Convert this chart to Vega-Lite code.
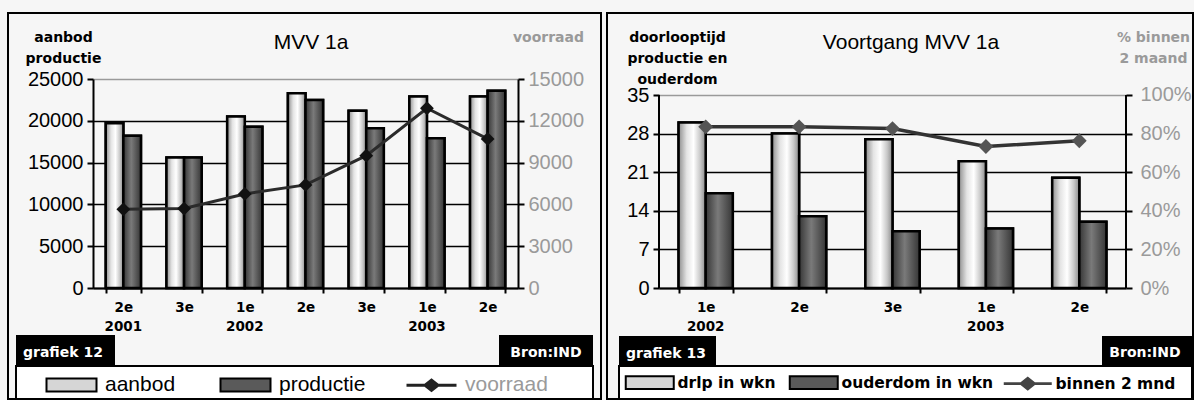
{
  "$schema": "https://vega.github.io/schema/vega-lite/v6.json",
  "background": "#f6f6f6",
  "padding": {"left": 7, "top": 12, "right": 0, "bottom": 0},
  "spacing": 4,
  "config": {
    "view": {"stroke": null},
    "font": "Liberation Sans",
    "axis": {"domainColor": "black", "domainWidth": 2, "tickColor": "black", "tickWidth": 2, "labelFont": "Liberation Sans", "labelFontSize": 20, "labelColor": "black", "gridColor": "black", "gridWidth": 1.5}
  },
  "resolve": {"scale": {"color": "independent"}, "legend": {"color": "independent"}},
  "datasets": {
    "mvv12_bars": [
      {"kwartaal": "2e 2001", "reeks": "aanbod", "waarde": 19700},
      {"kwartaal": "2e 2001", "reeks": "productie", "waarde": 18200},
      {"kwartaal": "3e 2001", "reeks": "aanbod", "waarde": 15600},
      {"kwartaal": "3e 2001", "reeks": "productie", "waarde": 15600},
      {"kwartaal": "1e 2002", "reeks": "aanbod", "waarde": 20500},
      {"kwartaal": "1e 2002", "reeks": "productie", "waarde": 19300},
      {"kwartaal": "2e 2002", "reeks": "aanbod", "waarde": 23300},
      {"kwartaal": "2e 2002", "reeks": "productie", "waarde": 22500},
      {"kwartaal": "3e 2002", "reeks": "aanbod", "waarde": 21200},
      {"kwartaal": "3e 2002", "reeks": "productie", "waarde": 19100},
      {"kwartaal": "1e 2003", "reeks": "aanbod", "waarde": 22900},
      {"kwartaal": "1e 2003", "reeks": "productie", "waarde": 17900},
      {"kwartaal": "2e 2003", "reeks": "aanbod", "waarde": 22900},
      {"kwartaal": "2e 2003", "reeks": "productie", "waarde": 23600}
    ],
    "mvv12_voorraad": [
      {"kwartaal": "2e 2001", "voorraad": 5650},
      {"kwartaal": "3e 2001", "voorraad": 5700},
      {"kwartaal": "1e 2002", "voorraad": 6750},
      {"kwartaal": "2e 2002", "voorraad": 7400},
      {"kwartaal": "3e 2002", "voorraad": 9500},
      {"kwartaal": "1e 2003", "voorraad": 12900},
      {"kwartaal": "2e 2003", "voorraad": 10700}
    ],
    "mvv13_bars": [
      {"kwartaal": "1e 2002", "reeks": "drlp in wkn", "weken": 30},
      {"kwartaal": "1e 2002", "reeks": "ouderdom in wkn", "weken": 17.2},
      {"kwartaal": "2e 2002", "reeks": "drlp in wkn", "weken": 28},
      {"kwartaal": "2e 2002", "reeks": "ouderdom in wkn", "weken": 13},
      {"kwartaal": "3e 2002", "reeks": "drlp in wkn", "weken": 27},
      {"kwartaal": "3e 2002", "reeks": "ouderdom in wkn", "weken": 10.3},
      {"kwartaal": "1e 2003", "reeks": "drlp in wkn", "weken": 23},
      {"kwartaal": "1e 2003", "reeks": "ouderdom in wkn", "weken": 10.8},
      {"kwartaal": "2e 2003", "reeks": "drlp in wkn", "weken": 20},
      {"kwartaal": "2e 2003", "reeks": "ouderdom in wkn", "weken": 12}
    ],
    "mvv13_binnen": [
      {"kwartaal": "1e 2002", "binnen": 0.835},
      {"kwartaal": "2e 2002", "binnen": 0.835},
      {"kwartaal": "3e 2002", "binnen": 0.826},
      {"kwartaal": "1e 2003", "binnen": 0.733},
      {"kwartaal": "2e 2003", "binnen": 0.763}
    ]
  },
  "hconcat": [
    {
      "width": 425,
      "height": 209,
      "resolve": {"scale": {"y": "independent"}, "axis": {"x": "independent"}},
      "layer": [
        {
          "data": {"values": [{"onderdeel": "kader"}]},
          "mark": {"type": "rect", "filled": false, "stroke": "black", "strokeWidth": 2},
          "encoding": {"x": {"value": -85}, "x2": {"value": 508}, "y": {"value": -66}, "y2": {"value": 320}}
        },
        {
          "data": {"values": [{"titel": "MVV 1a"}]},
          "mark": {"type": "text", "font": "Liberation Sans", "fontSize": 21, "color": "black", "align": "center", "baseline": "alphabetic"},
          "encoding": {"text": {"field": "titel"}, "x": {"value": 218}, "y": {"value": -30}}
        },
        {
          "data": {"values": [{"onderdeel": "legenda"}]},
          "mark": {"type": "rect", "fill": "white", "stroke": "black", "strokeWidth": 2},
          "encoding": {"x": {"value": -77}, "x2": {"value": 500}, "y": {"value": 287}, "y2": {"value": 320}}
        },
        {
          "data": {"values": [{"label": "grafiek 12"}]},
          "layer": [
            {"mark": {"type": "rect", "fill": "black"}, "encoding": {"x": {"value": -77}, "x2": {"value": 22}, "y": {"value": 256}, "y2": {"value": 287}}},
            {"mark": {"type": "text", "font": "DejaVu Sans", "fontWeight": "bold", "fontSize": 14, "color": "white", "align": "left", "baseline": "alphabetic"}, "encoding": {"text": {"field": "label"}, "x": {"value": -70}, "y": {"value": 278}}}
          ]
        },
        {
          "data": {"values": [{"label": "Bron:IND"}]},
          "layer": [
            {"mark": {"type": "rect", "fill": "black"}, "encoding": {"x": {"value": 406}, "x2": {"value": 500}, "y": {"value": 256}, "y2": {"value": 287}}},
            {"mark": {"type": "text", "font": "DejaVu Sans", "fontWeight": "bold", "fontSize": 14, "color": "white", "align": "center", "baseline": "alphabetic"}, "encoding": {"text": {"field": "label"}, "x": {"value": 453}, "y": {"value": 278}}}
          ]
        },
        {
          "data": {"name": "mvv12_bars"},
          "transform": [{"filter": "datum.reeks === 'aanbod'"}],
          "mark": {"type": "bar", "width": 17.6, "xOffset": -8.8, "stroke": "black", "strokeWidth": 2.5},
          "encoding": {
            "x": {
              "field": "kwartaal", "type": "nominal",
              "scale": {"type": "band", "domain": ["2e 2001", "3e 2001", "1e 2002", "2e 2002", "3e 2002", "1e 2003", "2e 2003"], "paddingInner": 0.42, "paddingOuter": 0.21},
              "axis": {"orient": "bottom", "title": null, "tickBand": "extent", "tickSize": 5, "labelPadding": 7, "labelAngle": 0, "labelFont": "DejaVu Sans", "labelFontWeight": "bold", "labelFontSize": 13.5, "labelBaseline": "top", "labelExpr": "isValid(datum.value) ? substring(datum.value, 0, 2) : ''", "grid": false}
            },
            "y": {
              "field": "waarde", "type": "quantitative",
              "scale": {"domain": [0, 25000], "nice": false},
              "axis": {"orient": "left", "values": [0, 5000, 10000, 15000, 20000, 25000], "format": "d", "tickSize": 6, "labelPadding": 4, "grid": true, "gridColor": {"condition": {"test": "datum.value === 25000", "value": "#9a9a9a"}, "value": "black"}, "title": ["aanbod", "productie"], "titleAngle": 0, "titleAlign": "center", "titleBaseline": "alphabetic", "titleX": -30, "titleY": -38, "titleFont": "DejaVu Sans", "titleFontWeight": "bold", "titleFontSize": 14, "titleLineHeight": 21, "titleColor": "black"}
            },
            "color": {
              "field": "reeks", "type": "nominal",
              "scale": {"domain": ["aanbod", "productie", "voorraad"], "range": ["#d6d6d6", "#5a5a5a", "#222222"]},
              "legend": {
                "orient": "none", "legendX": -32, "legendY": 295.5, "direction": "horizontal", "columns": 3, "title": null, "padding": 0,
                "symbolType": "M-1,-0.26H1V0.26H-1Z", "symbolSize": 2500, "symbolStrokeColor": "black", "symbolStrokeWidth": 2,
                "labelFont": "Liberation Sans", "labelFontSize": 21, "labelColor": "black", "labelOffset": 23, "columnPadding": 40, "labelLimit": 300,
                "encode": {
                  "symbols": {"update": {
                    "shape": {"signal": "datum.value === 'voorraad' ? 'M-1,-0.06H-0.28L0,-0.28L0.28,-0.06H1V0.06H0.28L0,0.28L-0.28,0.06H-1Z' : 'M-1,-0.26H1V0.26H-1Z'"},
                    "strokeWidth": {"signal": "datum.value === 'voorraad' ? 0 : 2"}
                  }},
                  "labels": {"update": {"fill": {"signal": "datum.value === 'voorraad' ? '#9a9a9a' : 'black'"}}}
                }
              }
            }
          }
        },
        {
          "data": {"name": "mvv12_bars"},
          "transform": [{"filter": "datum.reeks === 'productie'"}],
          "mark": {"type": "bar", "width": 17.6, "xOffset": 8.8, "stroke": "black", "strokeWidth": 2.5},
          "encoding": {
            "x": {
              "field": "kwartaal", "type": "nominal", "axis": null,
              "scale": {"type": "band", "domain": ["2e 2001", "3e 2001", "1e 2002", "2e 2002", "3e 2002", "1e 2003", "2e 2003"], "paddingInner": 0.42, "paddingOuter": 0.21}
            },
            "y": {"field": "waarde", "type": "quantitative", "axis": null, "scale": {"domain": [0, 25000], "nice": false}},
            "color": {
              "field": "reeks", "type": "nominal",
              "scale": {"domain": ["aanbod", "productie", "voorraad"], "range": ["#d6d6d6", "#5a5a5a", "#222222"]},
              "legend": {
                "orient": "none", "legendX": -32, "legendY": 295.5, "direction": "horizontal", "columns": 3, "title": null, "padding": 0,
                "symbolType": "M-1,-0.26H1V0.26H-1Z", "symbolSize": 2500, "symbolStrokeColor": "black", "symbolStrokeWidth": 2,
                "labelFont": "Liberation Sans", "labelFontSize": 21, "labelColor": "black", "labelOffset": 23, "columnPadding": 40, "labelLimit": 300,
                "encode": {
                  "symbols": {"update": {
                    "shape": {"signal": "datum.value === 'voorraad' ? 'M-1,-0.06H-0.28L0,-0.28L0.28,-0.06H1V0.06H0.28L0,0.28L-0.28,0.06H-1Z' : 'M-1,-0.26H1V0.26H-1Z'"},
                    "strokeWidth": {"signal": "datum.value === 'voorraad' ? 0 : 2"}
                  }},
                  "labels": {"update": {"fill": {"signal": "datum.value === 'voorraad' ? '#9a9a9a' : 'black'"}}}
                }
              }
            }
          }
        },
        {
          "data": {"name": "mvv12_bars"},
          "transform": [{"filter": "datum.reeks === 'aanbod'"}],
          "mark": {"type": "bar", "width": 17.6, "xOffset": -8.8, "stroke": "black", "strokeWidth": 2.5, "fill": {"gradient": "linear", "x1": 0, "y1": 0, "x2": 1, "y2": 0, "stops": [{"offset": 0, "color": "#8e8e8e"}, {"offset": 0.3, "color": "#e4e4e4"}, {"offset": 0.55, "color": "#ffffff"}, {"offset": 0.8, "color": "#c8c8c8"}, {"offset": 1, "color": "#8a8a8a"}]}},
          "encoding": {
            "x": {
              "field": "kwartaal", "type": "nominal", "axis": null,
              "scale": {"type": "band", "domain": ["2e 2001", "3e 2001", "1e 2002", "2e 2002", "3e 2002", "1e 2003", "2e 2003"], "paddingInner": 0.42, "paddingOuter": 0.21}
            },
            "y": {"field": "waarde", "type": "quantitative", "axis": null, "scale": {"domain": [0, 25000], "nice": false}}
          }
        },
        {
          "data": {"name": "mvv12_bars"},
          "transform": [{"filter": "datum.reeks === 'productie'"}],
          "mark": {"type": "bar", "width": 17.6, "xOffset": 8.8, "stroke": "black", "strokeWidth": 2.5, "fill": {"gradient": "linear", "x1": 0, "y1": 0, "x2": 1, "y2": 0, "stops": [{"offset": 0, "color": "#363636"}, {"offset": 0.45, "color": "#7a7a7a"}, {"offset": 1, "color": "#363636"}]}},
          "encoding": {
            "x": {
              "field": "kwartaal", "type": "nominal", "axis": null,
              "scale": {"type": "band", "domain": ["2e 2001", "3e 2001", "1e 2002", "2e 2002", "3e 2002", "1e 2003", "2e 2003"], "paddingInner": 0.42, "paddingOuter": 0.21}
            },
            "y": {"field": "waarde", "type": "quantitative", "axis": null, "scale": {"domain": [0, 25000], "nice": false}}
          }
        },
        {
          "data": {"name": "mvv12_voorraad"},
          "mark": {"type": "line", "color": "#2b2b2b", "strokeWidth": 3, "point": {"shape": "diamond", "filled": true, "size": 190, "color": "#111111"}},
          "encoding": {
            "x": {
              "field": "kwartaal", "type": "nominal", "bandPosition": 0.5,
              "scale": {"type": "band", "domain": ["2e 2001", "3e 2001", "1e 2002", "2e 2002", "3e 2002", "1e 2003", "2e 2003"], "paddingInner": 0.42, "paddingOuter": 0.21},
              "axis": {"orient": "bottom", "title": null, "domain": false, "ticks": false, "grid": false, "labelPadding": 31, "labelAngle": 0, "labelFont": "DejaVu Sans", "labelFontWeight": "bold", "labelFontSize": 13.5, "labelBaseline": "top", "labelExpr": "isValid(datum.value) && (datum.value === '2e 2001' || substring(datum.value, 0, 2) === '1e') ? substring(datum.value, 3) : ''"}
            },
            "y": {
              "field": "voorraad", "type": "quantitative",
              "scale": {"domain": [0, 15000], "nice": false},
              "axis": {"orient": "right", "values": [0, 3000, 6000, 9000, 12000, 15000], "format": "d", "tickSize": 6, "labelPadding": 4, "labelColor": "#9a9a9a", "grid": false, "title": "voorraad", "titleAngle": 0, "titleAlign": "center", "titleBaseline": "alphabetic", "titleX": 30, "titleY": -38, "titleFont": "DejaVu Sans", "titleFontWeight": "bold", "titleFontSize": 14, "titleColor": "#9a9a9a"}
            }
          }
        }
      ]
    },
    {
      "width": 467,
      "height": 209,
      "resolve": {"scale": {"y": "independent"}, "axis": {"x": "independent"}},
      "layer": [
        {
          "data": {"values": [{"onderdeel": "kader"}]},
          "mark": {"type": "rect", "filled": false, "stroke": "black", "strokeWidth": 2},
          "encoding": {"x": {"value": -52}, "x2": {"value": 534}, "y": {"value": -66}, "y2": {"value": 320}}
        },
        {
          "data": {"values": [{"titel": "Voortgang MVV 1a"}]},
          "mark": {"type": "text", "font": "Liberation Sans", "fontSize": 21, "color": "black", "align": "center", "baseline": "alphabetic"},
          "encoding": {"text": {"field": "titel"}, "x": {"value": 252}, "y": {"value": -30}}
        },
        {
          "data": {"values": [{"onderdeel": "aslijnen"}]},
          "layer": [
            {"mark": {"type": "rule", "color": "black", "strokeWidth": 2}, "encoding": {"x": {"value": 0}, "y": {"value": 16}, "y2": {"value": 209}}},
            {"mark": {"type": "rule", "color": "black", "strokeWidth": 2}, "encoding": {"x": {"value": 467}, "y": {"value": 16}, "y2": {"value": 209}}}
          ]
        },
        {
          "data": {"values": [{"onderdeel": "legenda"}]},
          "mark": {"type": "rect", "fill": "white", "stroke": "black", "strokeWidth": 2},
          "encoding": {"x": {"value": -40}, "x2": {"value": 533}, "y": {"value": 287}, "y2": {"value": 320}}
        },
        {
          "data": {"values": [{"label": "grafiek 13"}]},
          "layer": [
            {"mark": {"type": "rect", "fill": "black"}, "encoding": {"x": {"value": -40}, "x2": {"value": 57}, "y": {"value": 257}, "y2": {"value": 287}}},
            {"mark": {"type": "text", "font": "DejaVu Sans", "fontWeight": "bold", "fontSize": 14, "color": "white", "align": "left", "baseline": "alphabetic"}, "encoding": {"text": {"field": "label"}, "x": {"value": -33}, "y": {"value": 279}}}
          ]
        },
        {
          "data": {"values": [{"label": "Bron:IND"}]},
          "layer": [
            {"mark": {"type": "rect", "fill": "black"}, "encoding": {"x": {"value": 443}, "x2": {"value": 535}, "y": {"value": 257}, "y2": {"value": 287}}},
            {"mark": {"type": "text", "font": "DejaVu Sans", "fontWeight": "bold", "fontSize": 14, "color": "white", "align": "center", "baseline": "alphabetic"}, "encoding": {"text": {"field": "label"}, "x": {"value": 486}, "y": {"value": 278}}}
          ]
        },
        {
          "data": {"name": "mvv13_bars"},
          "transform": [{"filter": "datum.reeks === 'drlp in wkn'"}],
          "mark": {"type": "bar", "width": 27.1, "xOffset": -13.55, "stroke": "black", "strokeWidth": 2.5},
          "encoding": {
            "x": {
              "field": "kwartaal", "type": "nominal",
              "scale": {"type": "band", "domain": ["1e 2002", "2e 2002", "3e 2002", "1e 2003", "2e 2003"], "paddingInner": 0.42, "paddingOuter": 0.21},
              "axis": {"orient": "bottom", "title": null, "tickBand": "extent", "tickSize": 5, "labelPadding": 7, "labelAngle": 0, "labelFont": "DejaVu Sans", "labelFontWeight": "bold", "labelFontSize": 13.5, "labelBaseline": "top", "labelExpr": "isValid(datum.value) ? substring(datum.value, 0, 2) : ''", "grid": false}
            },
            "y": {
              "field": "weken", "type": "quantitative",
              "scale": {"domain": [0, 37.905], "nice": false},
              "axis": {"orient": "left", "domain": false, "values": [0, 7, 14, 21, 28, 35], "format": "d", "tickSize": 6, "labelPadding": 4, "grid": true, "gridColor": {"condition": {"test": "datum.value === 35", "value": "#9a9a9a"}, "value": "black"}, "title": ["doorlooptijd", "productie en", "ouderdom"], "titleAngle": 0, "titleAlign": "center", "titleBaseline": "alphabetic", "titleX": 18, "titleY": -38, "titleFont": "DejaVu Sans", "titleFontWeight": "bold", "titleFontSize": 14, "titleLineHeight": 21, "titleColor": "black"}
            },
            "color": {
              "field": "reeks", "type": "nominal",
              "scale": {"domain": ["drlp in wkn", "ouderdom in wkn", "binnen 2 mnd"], "range": ["#d6d6d6", "#5a5a5a", "#444444"]},
              "legend": {
                "orient": "none", "legendX": -17, "legendY": 295.5, "direction": "horizontal", "columns": 3, "title": null, "padding": 0,
                "symbolType": "M-1,-0.27H1V0.27H-1Z", "symbolSize": 2304, "symbolStrokeColor": "black", "symbolStrokeWidth": 2,
                "labelFont": "DejaVu Sans", "labelFontWeight": "bold", "labelFontSize": 15.5, "labelColor": "black", "labelOffset": 20, "columnPadding": 9, "labelLimit": 300,
                "encode": {
                  "symbols": {"update": {
                    "shape": {"signal": "datum.value === 'binnen 2 mnd' ? 'M-1,-0.06H-0.3L0,-0.3L0.3,-0.06H1V0.06H0.3L0,0.3L-0.3,0.06H-1Z' : 'M-1,-0.27H1V0.27H-1Z'"},
                    "strokeWidth": {"signal": "datum.value === 'binnen 2 mnd' ? 0 : 2"}
                  }}
                }
              }
            }
          }
        },
        {
          "data": {"name": "mvv13_bars"},
          "transform": [{"filter": "datum.reeks === 'ouderdom in wkn'"}],
          "mark": {"type": "bar", "width": 27.1, "xOffset": 13.55, "stroke": "black", "strokeWidth": 2.5},
          "encoding": {
            "x": {
              "field": "kwartaal", "type": "nominal", "axis": null,
              "scale": {"type": "band", "domain": ["1e 2002", "2e 2002", "3e 2002", "1e 2003", "2e 2003"], "paddingInner": 0.42, "paddingOuter": 0.21}
            },
            "y": {"field": "weken", "type": "quantitative", "axis": null, "scale": {"domain": [0, 37.905], "nice": false}},
            "color": {
              "field": "reeks", "type": "nominal",
              "scale": {"domain": ["drlp in wkn", "ouderdom in wkn", "binnen 2 mnd"], "range": ["#d6d6d6", "#5a5a5a", "#444444"]},
              "legend": {
                "orient": "none", "legendX": -17, "legendY": 295.5, "direction": "horizontal", "columns": 3, "title": null, "padding": 0,
                "symbolType": "M-1,-0.27H1V0.27H-1Z", "symbolSize": 2304, "symbolStrokeColor": "black", "symbolStrokeWidth": 2,
                "labelFont": "DejaVu Sans", "labelFontWeight": "bold", "labelFontSize": 15.5, "labelColor": "black", "labelOffset": 20, "columnPadding": 9, "labelLimit": 300,
                "encode": {
                  "symbols": {"update": {
                    "shape": {"signal": "datum.value === 'binnen 2 mnd' ? 'M-1,-0.06H-0.3L0,-0.3L0.3,-0.06H1V0.06H0.3L0,0.3L-0.3,0.06H-1Z' : 'M-1,-0.27H1V0.27H-1Z'"},
                    "strokeWidth": {"signal": "datum.value === 'binnen 2 mnd' ? 0 : 2"}
                  }}
                }
              }
            }
          }
        },
        {
          "data": {"name": "mvv13_bars"},
          "transform": [{"filter": "datum.reeks === 'drlp in wkn'"}],
          "mark": {"type": "bar", "width": 27.1, "xOffset": -13.55, "stroke": "black", "strokeWidth": 2.5, "fill": {"gradient": "linear", "x1": 0, "y1": 0, "x2": 1, "y2": 0, "stops": [{"offset": 0, "color": "#8e8e8e"}, {"offset": 0.3, "color": "#e4e4e4"}, {"offset": 0.55, "color": "#ffffff"}, {"offset": 0.8, "color": "#c8c8c8"}, {"offset": 1, "color": "#8a8a8a"}]}},
          "encoding": {
            "x": {
              "field": "kwartaal", "type": "nominal", "axis": null,
              "scale": {"type": "band", "domain": ["1e 2002", "2e 2002", "3e 2002", "1e 2003", "2e 2003"], "paddingInner": 0.42, "paddingOuter": 0.21}
            },
            "y": {"field": "weken", "type": "quantitative", "axis": null, "scale": {"domain": [0, 37.905], "nice": false}}
          }
        },
        {
          "data": {"name": "mvv13_bars"},
          "transform": [{"filter": "datum.reeks === 'ouderdom in wkn'"}],
          "mark": {"type": "bar", "width": 27.1, "xOffset": 13.55, "stroke": "black", "strokeWidth": 2.5, "fill": {"gradient": "linear", "x1": 0, "y1": 0, "x2": 1, "y2": 0, "stops": [{"offset": 0, "color": "#363636"}, {"offset": 0.45, "color": "#7a7a7a"}, {"offset": 1, "color": "#363636"}]}},
          "encoding": {
            "x": {
              "field": "kwartaal", "type": "nominal", "axis": null,
              "scale": {"type": "band", "domain": ["1e 2002", "2e 2002", "3e 2002", "1e 2003", "2e 2003"], "paddingInner": 0.42, "paddingOuter": 0.21}
            },
            "y": {"field": "weken", "type": "quantitative", "axis": null, "scale": {"domain": [0, 37.905], "nice": false}}
          }
        },
        {
          "data": {"name": "mvv13_binnen"},
          "mark": {"type": "line", "color": "#333333", "strokeWidth": 3.5, "point": {"shape": "diamond", "filled": true, "size": 220, "color": "#555555"}},
          "encoding": {
            "x": {
              "field": "kwartaal", "type": "nominal", "bandPosition": 0.5,
              "scale": {"type": "band", "domain": ["1e 2002", "2e 2002", "3e 2002", "1e 2003", "2e 2003"], "paddingInner": 0.42, "paddingOuter": 0.21},
              "axis": {"orient": "bottom", "title": null, "domain": false, "ticks": false, "grid": false, "labelPadding": 31, "labelAngle": 0, "labelFont": "DejaVu Sans", "labelFontWeight": "bold", "labelFontSize": 13.5, "labelBaseline": "top", "labelExpr": "isValid(datum.value) && substring(datum.value, 0, 2) === '1e' ? substring(datum.value, 3) : ''"}
            },
            "y": {
              "field": "binnen", "type": "quantitative",
              "scale": {"domain": [0, 1.0829], "nice": false},
              "axis": {"orient": "right", "domain": false, "values": [0, 0.2, 0.4, 0.6, 0.8, 1], "format": ".0%", "tickSize": 6, "labelPadding": 8, "labelColor": "#9a9a9a", "grid": false, "title": ["% binnen", "2 maand"], "titleAngle": 0, "titleAlign": "center", "titleBaseline": "alphabetic", "titleX": 27, "titleY": -38, "titleFont": "DejaVu Sans", "titleFontWeight": "bold", "titleFontSize": 14, "titleLineHeight": 21, "titleColor": "#9a9a9a"}
            }
          }
        }
      ]
    }
  ]
}
